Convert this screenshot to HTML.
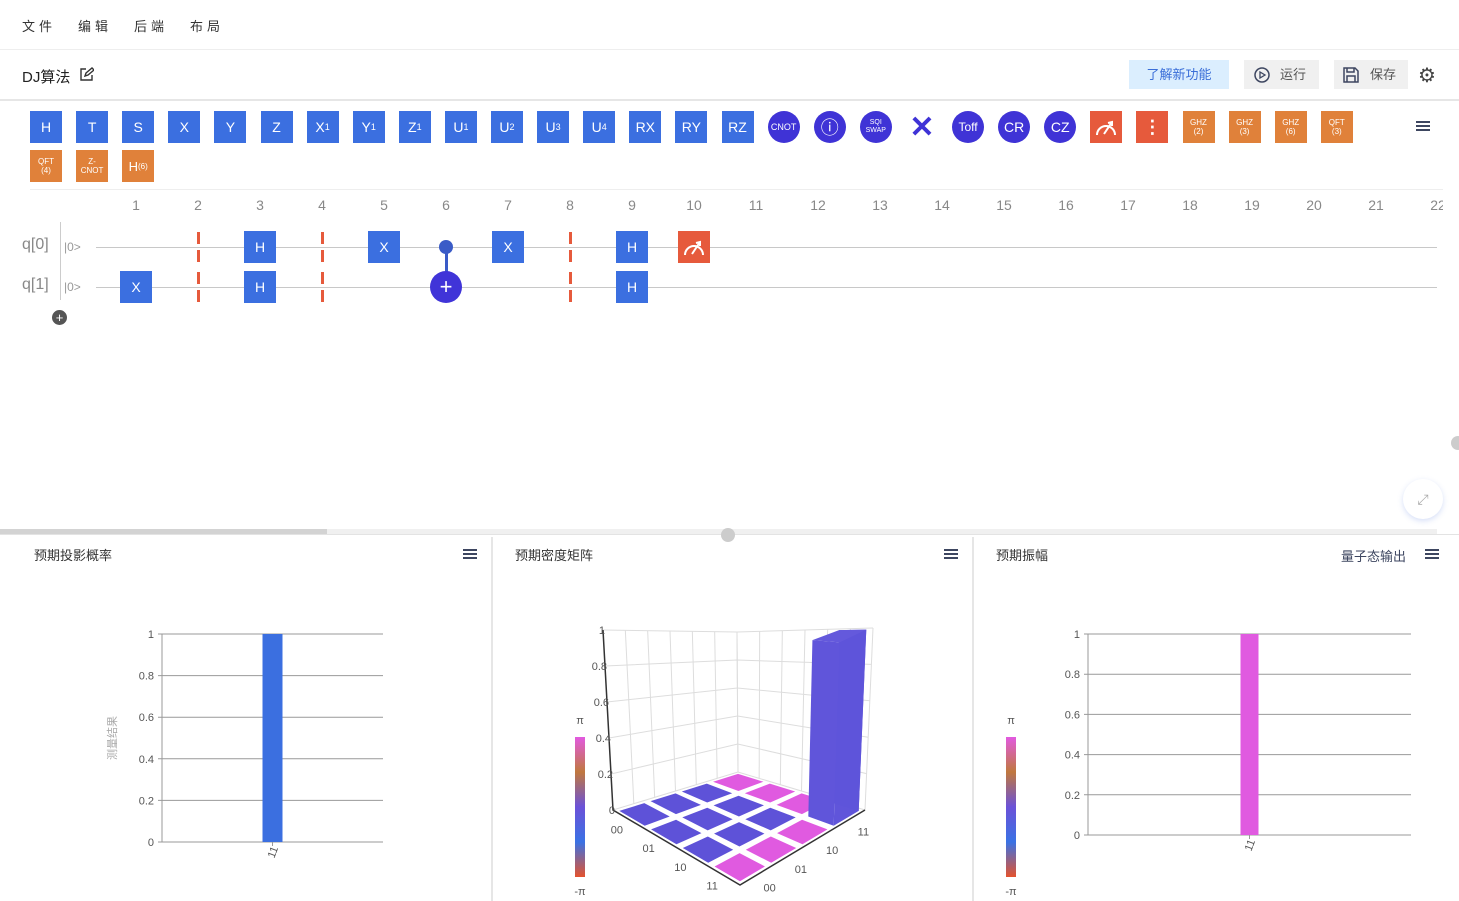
<!DOCTYPE html>
<html><head><meta charset="utf-8">
<style>
*{box-sizing:border-box;margin:0;padding:0}
body{width:1459px;height:901px;position:relative;overflow:hidden;background:#fff;font-family:"Liberation Sans","Noto Sans CJK SC",sans-serif;color:#333}
.a{position:absolute}
.g{position:absolute;width:32px;height:32px;background:#3b6fe0;color:#fff;font-size:14px;display:flex;align-items:center;justify-content:center}
.c{border-radius:50%;background:#3f33d6}
.o{background:#e0813a;font-size:8px;line-height:9px;text-align:center}
.r{background:#e65a3c}
.t{font-size:13px;color:#333}
.ham{position:absolute;width:14px;height:10px;border-top:2px solid #3d4660;border-bottom:2px solid #3d4660}
.ham:after{content:"";position:absolute;left:0;right:0;top:2px;border-top:2px solid #3d4660}
.num{position:absolute;font-size:14px;color:#888;width:30px;text-align:center;top:197px}
#circ{position:absolute;left:0;top:0;width:1443px;height:340px;overflow:hidden}
</style></head><body>
<div class="a" style="left:0;top:0;width:1459px;height:50px;border-bottom:1px solid #eee">
<span class="a t" style="left:22px;top:16px;letter-spacing:4px">文件</span>
<span class="a t" style="left:78px;top:16px;letter-spacing:4px">编辑</span>
<span class="a t" style="left:134px;top:16px;letter-spacing:4px">后端</span>
<span class="a t" style="left:190px;top:16px;letter-spacing:4px">布局</span>
</div>
<div class="a" style="left:0;top:51px;width:1459px;height:50px;border-bottom:2px solid #e6e6e6">
<span class="a" style="left:22px;top:15px;font-size:15px;color:#222">DJ算法</span>
<svg class="a" style="left:79px;top:16px" width="15" height="15" viewBox="0 0 15 15"><path d="M7 2H2v11h11V8M6 9l1-3 6-5 2 2-6 5z" fill="none" stroke="#333" stroke-width="1.4"/></svg>
<div class="a" style="left:1129px;top:9px;width:100px;height:29px;background:#dbeefe;color:#3a6ed8;font-size:13px;text-align:center;line-height:29px">了解新功能</div>
<div class="a" style="left:1244px;top:9px;width:75px;height:29px;background:#f0f0f0;font-size:13px;line-height:29px;padding-left:36px;color:#555">运行
<svg class="a" style="left:10px;top:7px" width="16" height="16"><circle cx="8" cy="8" r="7" fill="none" stroke="#3d4660" stroke-width="1.5"/><path d="M6 5v6l5-3z" fill="none" stroke="#3d4660" stroke-width="1.3"/></svg></div>
<div class="a" style="left:1334px;top:9px;width:74px;height:29px;background:#f0f0f0;font-size:13px;line-height:29px;padding-left:36px;color:#555">保存
<svg class="a" style="left:9px;top:7px" width="16" height="16"><path d="M1 1h11l3 3v11H1z M4 1v4h7V1 M4 15V9h8v6" fill="none" stroke="#3d4660" stroke-width="1.5"/></svg></div>
<div class="a" style="left:1418px;top:12px;font-size:20px;color:#444">⚙</div>
</div>
<div id="tb"></div>
<div class="ham" style="left:1416px;top:121px"></div>
<div class="a" style="left:30px;top:189px;width:1413px;border-top:1px solid #eee"></div>
<div id="circ"></div>
<div class="a" style="left:0;top:529px;width:1437px;height:5px;background:#f0f0f0"></div>
<div class="a" style="left:0;top:529px;width:327px;height:5px;background:#d3d3d3"></div>
<div class="a" style="left:0;top:534px;width:1459px;border-top:1px solid #e3e3e3"></div>
<div class="a" style="left:721px;top:528px;width:14px;height:14px;border-radius:50%;background:#ccc"></div>
<div class="a" style="left:1403px;top:479px;width:40px;height:40px;border-radius:50%;background:#fff;box-shadow:0 2px 6px rgba(120,150,230,.3);color:#aaa;font-size:14px;text-align:center;line-height:40px">⤢</div>
<div class="a" style="left:1451px;top:436px;width:14px;height:14px;border-radius:50%;background:#ccc"></div>
<div class="a" style="left:491px;top:537px;width:2px;height:364px;background:#e6e6e6"></div>
<div class="a" style="left:972px;top:537px;width:2px;height:364px;background:#e6e6e6"></div>
<span class="a t" style="left:34px;top:545px">预期投影概率</span>
<div class="ham" style="left:463px;top:549px"></div>
<span class="a t" style="left:515px;top:545px">预期密度矩阵</span>
<div class="ham" style="left:944px;top:549px"></div>
<span class="a t" style="left:996px;top:545px">预期振幅</span>
<span class="a t" style="left:1341px;top:546px;color:#3d4660">量子态输出</span>
<div class="ham" style="left:1425px;top:549px"></div>
<svg id="ch" class="a" style="left:0;top:0" width="1459" height="901"></svg>
<script>
const tb=document.getElementById('tb');
const gates=[['H',''],['T',''],['S',''],['X',''],['Y',''],['Z',''],['X<small style="font-size:9px">1</small>',''],['Y<small style="font-size:9px">1</small>',''],['Z<small style="font-size:9px">1</small>',''],['U<small style="font-size:9px">1</small>',''],['U<small style="font-size:9px">2</small>',''],['U<small style="font-size:9px">3</small>',''],['U<small style="font-size:9px">4</small>',''],['RX',''],['RY',''],['RZ',''],['<span style="font-size:9px">CNOT</span>','c'],['<span style="font-size:18px">ⓘ</span>','c'],['<span style="font-size:7px;line-height:8px;text-align:center">SQI<br>SWAP</span>','c'],['<span style="color:#3f33d6;font-size:30px;font-weight:bold">✕</span>','x'],['<span style="font-size:12px">Toff</span>','c'],['CR','c'],['CZ','c'],['<svg width="22" height="18"><path d="M2 17A9 9 0 0 1 20 17" fill="none" stroke="#fff" stroke-width="2"/><path d="M9 16L17 4M13 5l4-1v4" fill="none" stroke="#fff" stroke-width="2"/></svg>','r'],['<span style="font-size:18px;font-weight:bold">⋮</span>','r'],['GHZ<br>(2)','o'],['GHZ<br>(3)','o'],['GHZ<br>(6)','o'],['QFT<br>(3)','o']];
gates.forEach((g,i)=>{const d=document.createElement('div');d.className='g '+g[1];if(g[1]==='x')d.style.background='transparent';d.style.left=(30+i*46.1)+'px';d.style.top='111px';d.innerHTML=g[0];


tb.appendChild(d);});
[['QFT<br>(4)','o'],['Z-<br>CNOT','o'],['H<span style="font-size:8px">(6)</span>','o h']].forEach((g,i)=>{const d=document.createElement('div');d.className='g '+g[1];if(i==2)d.style.fontSize='13px';d.style.left=(30+i*46.1)+'px';d.style.top='150px';d.innerHTML=g[0];


tb.appendChild(d);});
const ci=document.getElementById('circ');
let h='';
for(let n=1;n<=22;n++)h+=`<div class="num" style="left:${121+(n-1)*62}px">${n}</div>`;
[247,287].forEach((y,q)=>{h+=`<div class="a" style="left:96px;top:${y}px;width:1341px;border-top:1px solid #c8c8c8"></div>
<span class="a" style="left:22px;top:${y-11}px;font-size:16px;color:#888">q[${q}]</span>
<span class="a" style="left:64px;top:${y-7}px;font-size:12px;color:#999">|0&gt;</span>`;});
h+=`<div class="a" style="left:60px;top:222px;height:78px;border-left:1px solid #ccc"></div>
<div class="a" style="left:52px;top:310px;width:15px;height:15px;border-radius:50%;background:#555;color:#fff;font-size:13px;line-height:15px;text-align:center">+</div>`;
const cx=c=>136+(c-1)*62;
const ops=[[0,3,'H'],[0,5,'X'],[0,7,'X'],[0,9,'H'],[1,1,'X'],[1,3,'H'],[1,9,'H']];
ops.forEach(o=>{h+=`<div class="g" style="left:${cx(o[1])-16}px;top:${[247,287][o[0]]-16}px">${o[2]}</div>`;});
[2,4,8].forEach(c=>{[232,250,272,290].forEach(y=>{h+=`<div class="a" style="left:${cx(c)-1.5}px;top:${y}px;width:3px;height:12px;background:#e65a3c"></div>`;});});
h+=`<div class="g r" style="left:${cx(10)-16}px;top:231px"><svg width="24" height="18"><path d="M3 17A9 9 0 0 1 21 17" fill="none" stroke="#fff" stroke-width="2"/><path d="M10 16L18 4M14 5l4-1v4" fill="none" stroke="#fff" stroke-width="2"/></svg></div>
<div class="a" style="left:${cx(6)-1.5}px;top:247px;width:3px;height:30px;background:#3a5bc7"></div>
<div class="a" style="left:${cx(6)-7}px;top:240px;width:14px;height:14px;border-radius:50%;background:#3a5bc7"></div>
<div class="a" style="left:${cx(6)-16}px;top:271px;width:32px;height:32px;border-radius:50%;background:#4034d8;color:#fff;font-size:22px;line-height:31px;text-align:center">+</div>`;
ci.innerHTML=h;
</script>
<script>
const probCats=['11'];
const probVals=[1];
const ampCats=['11'];
const ampVals=[1];
const yTicks=[0,0.2,0.4,0.6,0.8,1];
const dmLabels=['00','01','10','11'];
const dmMag=[[0,0,0,0],[0,0,0,0],[0,0,0,0],[0,0,0,1]];
const dmPhase=[[0,0,0,1],[0,0,0,1],[0,0,0,1],[1,1,1,0]];
const NS='http://www.w3.org/2000/svg';
const svg=document.getElementById('ch');
function el(t,a,p){const e=document.createElementNS(NS,t);for(const k in a)e.setAttribute(k,a[k]);(p||svg).appendChild(e);return e;}
function bar2d(x0,x1,y0,y1,cats,vals,color,bw,name,ytitle){
 const ys=v=>y0-(v)*(y0-y1);
 yTicks.forEach(t=>{const l=el('line',{x1:x0-4,x2:x1,y1:ys(t),y2:ys(t),stroke:'#999','stroke-width':1});
 
 
 const tx=el('text',{x:x0-8,y:ys(t)+4,'text-anchor':'end','font-size':11,fill:'#555'});tx.textContent=t;
 
 });
 el('line',{x1:x0,x2:x0,y1:y1,y2:y0,stroke:'#999'});
 const bandw=(x1-x0)/cats.length;
 cats.forEach((c,i)=>{const cxp=x0+bandw*(i+0.5);
  const r=el('rect',{x:cxp-bw/2,y:ys(vals[i]),width:bw,height:y0-ys(vals[i]),fill:color});
  
  
  el('line',{x1:cxp,x2:cxp,y1:y0,y2:y0+4,stroke:'#999'});
  const tx=el('text',{x:cxp,y:y0+14,'font-size':11,fill:'#555','text-anchor':'middle',transform:`rotate(-70 ${cxp} ${y0+10})`});tx.textContent=c;
  
  });
 if(ytitle){const tx=el('text',{x:116,y:(y0+y1)/2,'font-size':11,fill:'#aaa','text-anchor':'middle',transform:`rotate(-90 116 ${(y0+y1)/2})`});tx.textContent=ytitle;
 
 }
}
bar2d(162,383,842,634,probCats,probVals,'#3b6fe0',20,'probability-bar','测量结果');
bar2d(1088,1411,835,634,ampCats,ampVals,'#e05ae0',18,'amplitude-bar',null);
const defs=el('defs',{});
const lg=el('linearGradient',{id:'cb',x1:0,y1:0,x2:0,y2:1},defs);
[['0','#e25ae0'],['0.25','#c0783e'],['0.5','#6b52d8'],['0.75','#3a72e4'],['1','#e4532e']].forEach(s=>el('stop',{offset:s[0],'stop-color':s[1]},lg));
[[575,580],[1006,1011]].forEach(p=>{const r=el('rect',{x:p[0],y:737,width:10,height:140,fill:'url(#cb)'});


const a=el('text',{x:p[1],y:724,'font-size':11,fill:'#555','text-anchor':'middle'});a.textContent='π';
const b=el('text',{x:p[1],y:895,'font-size':11,fill:'#555','text-anchor':'middle'});b.textContent='-π';});
// 3D: [x, y, height-scale, x-shift per unit height]
const C={L:[613,810,180,-10],F:[740,885,192,0],R:[865,810,182,8],B:[738,772,140,-1]};
function P(u,v,hh){const k=i=>C.L[i]*(1-u)*(1-v)+C.F[i]*u*(1-v)+C.R[i]*u*v+C.B[i]*(1-u)*v;return [k(0)+hh*k(3),k(1)-hh*k(2)];}
const pts=a=>a.map(p=>p.join(',')).join(' ');
for(let k=0;k<=5;k++){const hh=k/5;
 el('polyline',{points:pts([P(0,0,hh),P(0,1,hh),P(1,1,hh)]),fill:'none',stroke:'#ddd'});}
for(let k=0;k<=6;k++){const s=k/6;
 el('line',{x1:P(0,s,0)[0],y1:P(0,s,0)[1],x2:P(0,s,1)[0],y2:P(0,s,1)[1],stroke:'#ddd'});
 el('line',{x1:P(s,1,0)[0],y1:P(s,1,0)[1],x2:P(s,1,1)[0],y2:P(s,1,1)[1],stroke:'#ddd'});}
el('polyline',{points:pts([P(0,0,1),P(0,0,0),P(1,0,0),P(1,1,0)]),fill:'none',stroke:'#333','stroke-width':1.5});
yTicks.forEach(t=>{const p=P(0,0,t);const tx=el('text',{x:p[0]+2,y:p[1]+4,'font-size':11,fill:'#555','text-anchor':'end'});tx.textContent=t;

});
dmLabels.forEach((lb,i)=>{const c=(i+0.5)/4;
 let p=P(c,0,0);let t=el('text',{x:p[0]-12,y:p[1]+14,'font-size':11,fill:'#555','text-anchor':'middle'});t.textContent=lb;
 
 
 p=P(1,c,0);t=el('text',{x:p[0]+14,y:p[1]+16,'font-size':11,fill:'#555','text-anchor':'middle'});t.textContent=lb;
 
 });
const m=0.1;
dmMag.forEach((row,i)=>row.forEach((val,j)=>{
 const u0=(i+m)/4,u1=(i+1-m)/4,v0=(j+m)/4,v1=(j+1-m)/4;
 const col=dmPhase[i][j]?'#e05ae0':'#5e52d8';
 if(val<=0){const q=el('polygon',{points:pts([P(u0,v0,0),P(u1,v0,0),P(u1,v1,0),P(u0,v1,0)]),fill:col});
  
  }
 else{const g=el('g',{});
  
  
  el('polygon',{points:pts([P(u1,v0,0),P(u1,v1,0),P(u1,v1,val),P(u1,v0,val)]),fill:'#6055da'},g);
  el('polygon',{points:pts([P(u0,v1,0),P(u1,v1,0),P(u1,v1,val),P(u0,v1,val)]),fill:'#5e54da'},g);
  el('polygon',{points:pts([P(u0,v0,val),P(u1,v0,val),P(u1,v1,val),P(u0,v1,val)]),fill:'#6459dc'},g);
  el('polygon',{points:pts([P(u0,v0,0),P(u1,v0,0),P(u1,v0,val),P(u0,v0,val)]),fill:'#6055da'},g);}
}));
</script>
</body></html>
